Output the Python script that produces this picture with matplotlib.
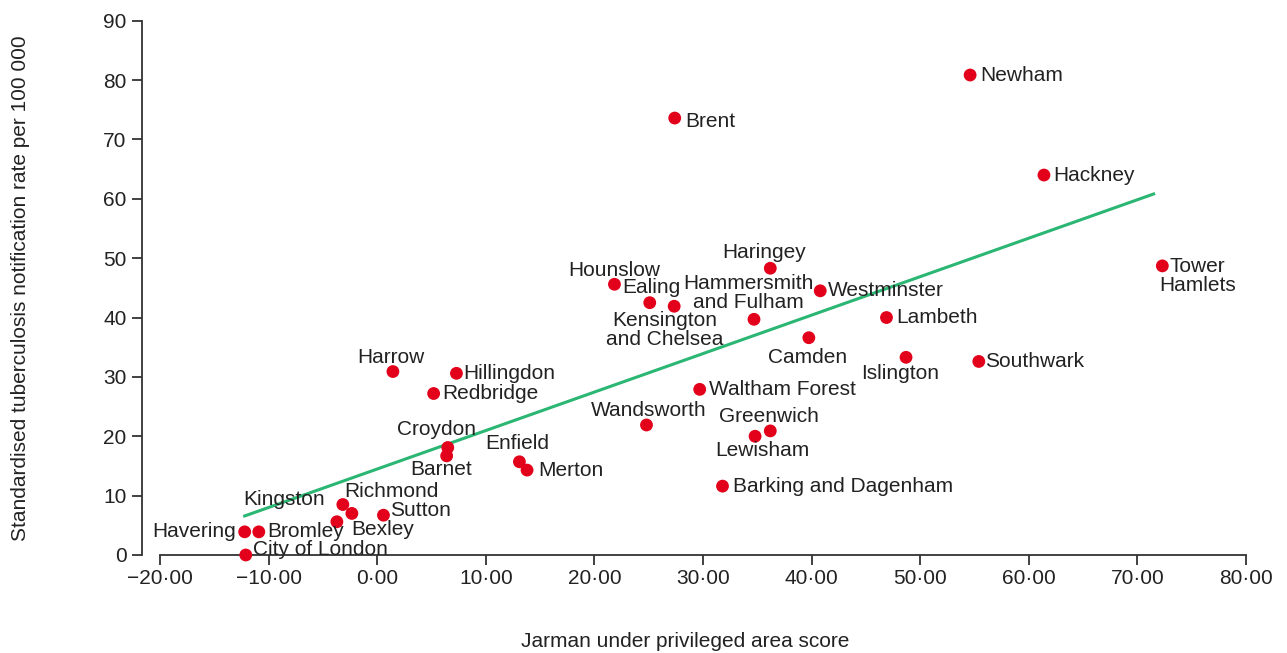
import numpy as np
import matplotlib.pyplot as plt

plt.rcParams['font.family'] = ['Liberation Sans', 'DejaVu Sans']

# London boroughs: Jarman score vs standardised TB notification rate
boroughs = ['Newham', 'Brent', 'Hackney', 'Tower\nHamlets', 'Lambeth', 'Islington',
            'Southwark', 'Haringey', 'Hounslow', 'Ealing', 'Kensington\nand Chelsea',
            'Hammersmith\nand Fulham', 'Westminster', 'Camden', 'Waltham Forest',
            'Wandsworth', 'Greenwich', 'Lewisham', 'Barking and Dagenham',
            'Harrow', 'Hillingdon', 'Redbridge', 'Croydon', 'Barnet', 'Enfield',
            'Merton', 'Richmond', 'Bexley', 'Kingston', 'Sutton', 'Havering',
            'Bromley', 'City of London']
jarman = [54.6, 27.4, 61.4, 72.3, 46.9, 48.7,
          55.4, 36.2, 21.85, 25.1, 27.35,
          34.7, 40.8, 39.75, 29.7,
          24.8, 36.2, 34.8, 31.8,
          1.45, 7.3, 5.2, 6.5, 6.4, 13.1,
          13.8, -3.16, -2.33, -3.71, 0.58, -12.2,
          -10.9, -12.1]
tb_rate = [80.85, 73.6, 64.0, 48.7, 40.0, 33.3,
           32.6, 48.3, 45.6, 42.5, 41.9,
           39.7, 44.5, 36.6, 27.9,
           21.9, 20.9, 20.0, 11.6,
           30.9, 30.6, 27.2, 18.1, 16.7, 15.7,
           14.3, 8.5, 7.0, 5.6, 6.7, 3.9,
           3.9, 0.0]

# fitted line
fit_slope = 0.648
fit_intercept = 14.48
fit_range = [-12.2, 71.5]

xticks = [-20, -10, 0, 10, 20, 30, 40, 50, 60, 70, 80]
yticks = [0, 10, 20, 30, 40, 50, 60, 70, 80, 90]

# label placement: (dx px, dy px, ha)
label_pos = {
    'Newham': (10, 0, 'left'),
    'Brent': (11, -3, 'left'),
    'Hackney': (9, 0, 'left'),
    'Tower\nHamlets': (35, -10, 'center'),
    'Lambeth': (10, 0, 'left'),
    'Islington': (-6, -16, 'center'),
    'Southwark': (6, 0, 'left'),
    'Haringey': (-6, 16, 'center'),
    'Hounslow': (0, 14, 'center'),
    'Ealing': (2, 15, 'center'),
    'Kensington\nand Chelsea': (-9, -24, 'center'),
    'Hammersmith\nand Fulham': (-6, 26, 'center'),
    'Westminster': (8, 0, 'left'),
    'Camden': (-1, -20, 'center'),
    'Waltham Forest': (9, 0, 'left'),
    'Wandsworth': (2, 14, 'center'),
    'Greenwich': (-1, 14, 'center'),
    'Lewisham': (7, -14, 'center'),
    'Barking and Dagenham': (10, 0, 'left'),
    'Harrow': (-2, 14, 'center'),
    'Hillingdon': (7, 0, 'left'),
    'Redbridge': (9, 0, 'left'),
    'Croydon': (-11, 18, 'center'),
    'Barnet': (-6, -14, 'center'),
    'Enfield': (-2, 18, 'center'),
    'Merton': (11, 0, 'left'),
    'Richmond': (49, 13, 'center'),
    'Bexley': (31, -16, 'center'),
    'Kingston': (-53, 22, 'center'),
    'Sutton': (7, 5, 'left'),
    'Havering': (-9, 0, 'right'),
    'Bromley': (8, 0, 'left'),
    'City of London': (7, 5, 'left'),
}

red = '#e2001a'
green = '#2bb673'
ink = '#222222'
fs = 15

fig = plt.figure(figsize=(12.87, 6.53), dpi=100)
ax = fig.add_axes([0.1243, 0.1501, 0.8438, 0.8182])

fx = np.array(fit_range)
ax.plot(fx, fit_intercept + fit_slope * fx, color=green, lw=2.2, zorder=2)
ax.scatter(jarman, tb_rate, s=85, color=red, edgecolors='none', zorder=3, clip_on=False)

for name, xv, yv in zip(boroughs, jarman, tb_rate):
    dx, dy, ha = label_pos[name]
    ax.annotate(name, (xv, yv), xytext=(dx, dy), textcoords='offset pixels',
                ha=ha, va='center', multialignment='center', fontsize=fs,
                color=ink, linespacing=1.0, zorder=4)

ax.set_xlim(-20, 80)
ax.set_ylim(0, 90)
ax.set_xticks(xticks)
ax.set_xticklabels([('\u2212' if v < 0 else '') + '%d\u00b700' % abs(v) for v in xticks])
ax.set_yticks(yticks)

for side in ['top', 'right']:
    ax.spines[side].set_visible(False)
ax.spines['left'].set_position(('outward', 13))
for side in ['left', 'bottom']:
    ax.spines[side].set_color('#333333')
    ax.spines[side].set_linewidth(1.3)
ax.tick_params(axis='both', colors='#333333', labelcolor=ink, labelsize=fs,
               length=7, width=1.3)
ax.tick_params(axis='y', pad=4)
ax.tick_params(axis='x', pad=3)

ax.set_xlabel('Jarman under privileged area score', fontsize=fs, color=ink,
              labelpad=32, x=0.484)
ax.set_ylabel('Standardised tuberculosis notification rate per 100 000', fontsize=fs,
              color=ink, labelpad=53)

fig.savefig('out.png', dpi=100)
